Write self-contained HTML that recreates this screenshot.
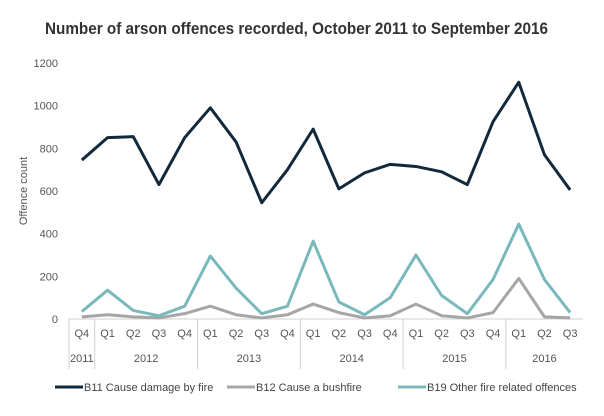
<!DOCTYPE html>
<html><head><meta charset="utf-8"><style>
body{margin:0;background:#fff;}
svg text{font-family:"Liberation Sans",sans-serif;}
</style></head><body>
<svg id="chart" width="604" height="411" xmlns="http://www.w3.org/2000/svg">
<text x="45" y="34" font-size="17" font-weight="bold" fill="#333" textLength="503" lengthAdjust="spacingAndGlyphs">Number of arson offences recorded, October 2011 to September 2016</text>
<text transform="translate(27,191) rotate(-90)" text-anchor="middle" font-size="11" fill="#555">Offence count</text>
<g id="axes"></g><g id="series"></g><g id="legend"></g>
</svg>
<script>
const quarters=["Q4","Q1","Q2","Q3","Q4","Q1","Q2","Q3","Q4","Q1","Q2","Q3","Q4","Q1","Q2","Q3","Q4","Q1","Q2","Q3"];
const years=[["2011",1],["2012",4],["2013",4],["2014",4],["2015",4],["2016",3]];
const yTicks=[0,200,400,600,800,1000,1200];
const b11=[745,850,855,630,850,990,830,545,700,890,610,685,725,715,690,630,925,1110,770,605];
const b12=[10,20,10,5,25,60,20,5,20,70,30,5,15,70,15,5,30,190,10,5];
const b19=[35,135,40,15,60,295,145,25,60,365,80,20,100,300,110,25,185,445,185,30];
const seriesNames=["B11 Cause damage by fire","B12 Cause a bushfire","B19 Other fire related offences"];
const colors=["#12293b","#a6a6a6","#79b8bb"];
const NS="http://www.w3.org/2000/svg";
const x0=69,x1=583,y0=319,y1=63;
const bw=(x1-x0)/quarters.length;
const xs=i=>x0+bw*(i+0.5);
const ys=v=>y0-(v/1200)*(y0-y1);
function mk(t,a,p){const e=document.createElementNS(NS,t);for(const k in a)e.setAttribute(k,a[k]);p.appendChild(e);return e;}
const ax=document.getElementById('axes');
yTicks.forEach(v=>{const t=mk('text',{x:58,y:ys(v)+4,'text-anchor':'end','font-size':11,fill:'#555'},ax);t.textContent=v;

});
const xl=mk('line',{x1:x0,x2:x1,y1:y0,y2:y0,stroke:'#d0d0d0'},ax);


quarters.forEach((q,i)=>{const t=mk('text',{x:xs(i),y:337,'text-anchor':'middle','font-size':11,fill:'#555'},ax);t.textContent=q;

});
let c=0;
mk('line',{x1:x0,x2:x0,y1:y0,y2:369,stroke:'#d0d0d0'},ax);
years.forEach(([y,n])=>{const mid=x0+bw*(c+n/2);const t=mk('text',{x:mid,y:362,'text-anchor':'middle','font-size':11,fill:'#555'},ax);t.textContent=y;


c+=n;const xx=x0+bw*c;if(c<quarters.length)mk('line',{x1:xx,x2:xx,y1:y0,y2:369,stroke:'#d0d0d0'},ax);});
const sg=document.getElementById('series');
[b11,b12,b19].forEach((d,k)=>{const p=mk('polyline',{points:d.map((v,i)=>xs(i)+','+ys(v)).join(' '),fill:'none',stroke:colors[k],'stroke-width':3,'stroke-linejoin':'round'},sg);

});
const lg=document.getElementById('legend');
const lx=[55,227,398];
seriesNames.forEach((n,k)=>{mk('line',{x1:lx[k],x2:lx[k]+28,y1:387,y2:387,stroke:colors[k],'stroke-width':3},lg);
const t=mk('text',{x:lx[k]+29,y:391,'font-size':11,fill:'#444'},lg);t.textContent=n;

});
</script>
</body></html>
